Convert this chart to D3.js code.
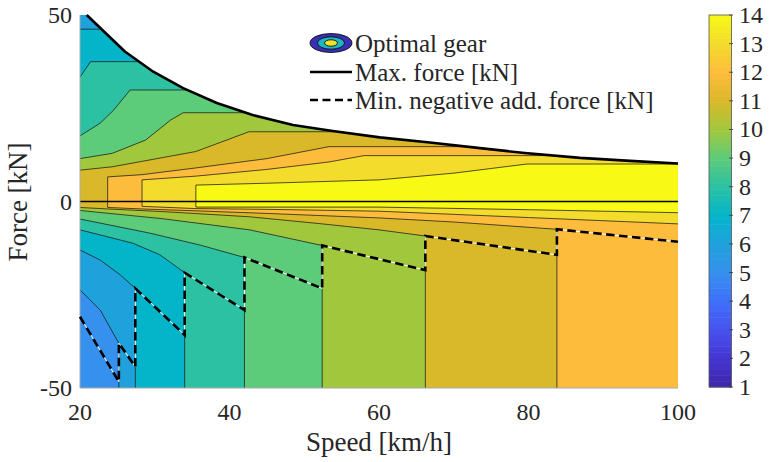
<!DOCTYPE html>
<html lang="en">
<head>
<meta charset="utf-8">
<title>Optimal gear map</title>
<script src="https://cdn.jsdelivr.net/npm/d3@7"></script>
<style>
  body { margin: 0; background: #fff; }
  text { font-family: "Liberation Serif", "Times New Roman", serif; fill: #262626; }
  .tick { font-size: 24px; }
  .label { font-size: 27px; text-anchor: middle; }
  .legend { font-size: 25px; }
  .contour { fill: none; stroke: #1a1a1a; stroke-width: 0.75px; }
</style>
</head>
<body>
<script>

// ---- data (speed km/h, force kN) ----
var maxForce = [[20,50],[20.9,50],[26,40.2],[29.8,34.8],[33.8,30.4],[38.3,26.4],[43.1,23.2],[48.5,20.5],
                [53.8,18.9],[60.1,17.2],[66.8,15.8],[73.5,14.3],[79.5,13.0],[86.9,11.7],[93.6,10.9],[100,10.2]];

var minNegForce = [[20,-30.9],[25.2,-48.3],[25.2,-38],[27.4,-44.3],[27.4,-23.3],[34,-35.8],[34,-19.1],
                   [42,-29.1],[42,-15],[52.4,-23.3],[52.4,-11.8],[66.2,-18.4],[66.2,-9.25],[83.8,-14.3],
                   [83.8,-7.45],[100,-10.8]];

var zeroLine = [[20,0],[100,0]];

var gears = [5,6,7,8,9,10,11,12,13,14];

// upper edge of the region "gear >= g"
var gearUpper = [
  [[20,50],[100,50]],
  [[20,50],[100,50]],
  [[20,46.2],[100,46.2]],
  [[20,33.3],[21.4,37.5],[100,37.5]],
  [[20,17.6],[22.7,21],[24.5,24.5],[26.7,29.9],[100,29.9]],
  [[20,11.5],[24.3,12.9],[28.8,16.5],[32.1,21.8],[33.8,23.8],[100,23.8]],
  [[20,8.4],[24.3,9.3],[35.5,13.4],[42.6,18.7],[100,18.7]],
  [[23.7,6.6],[28.3,7.2],[35.5,9.0],[45,11.5],[53.3,14.7],[100,14.7]],
  [[28.3,5.8],[35.5,6.8],[45,8.6],[53.3,10.6],[58,12.3],[100,12.3]],
  [[35.5,4.4],[45,4.9],[60,5.8],[70,7.6],[79.8,10.05],[100,10.05]]
];

// lower edge of the region "gear >= g"
var gearLower = [
  [[20,-50],[100,-50]],
  [[20,-23.7],[22.7,-29.1],[25.2,-38],[25.2,-50]],
  [[20,-13],[22.7,-15.7],[25.4,-19.7],[27.4,-23.3],[27.4,-50]],
  [[20,-7.6],[27.1,-11.2],[30.7,-14.3],[34,-19.1],[34,-50]],
  [[20,-4.7],[29.4,-8.5],[36.1,-11.7],[42,-15],[42,-50]],
  [[20,-2.4],[31,-4.6],[42.7,-7.6],[52.4,-11.8],[52.4,-50]],
  [[20,-1.6],[23.7,-2.0],[31,-2.7],[42.7,-4.1],[52.4,-6.0],[60,-7.6],[66.2,-9.25],[66.2,-50]],
  [[23.7,-1.6],[28.3,-2.0],[35.5,-2.5],[45,-3.2],[60,-4.4],[70,-5.5],[83.8,-7.45],[83.8,-50]],
  [[28.3,-1.3],[35.5,-1.9],[45,-2.1],[60,-2.6],[80,-4.3],[100,-6.0]],
  [[35.5,-1.5],[60,-1.5],[80,-2.2],[100,-3.0]]
];

var xTicks = [20,40,60,80,100];
var yTicks = [-50,0,50];
var cbTicks = [1,2,3,4,5,6,7,8,9,10,11,12,13,14];

// colour of each gear 1..14
var gearColors = ['#3e26a8','#4635d2','#4752ee','#3f70fa','#3690ee','#1fa1dc','#04b5ca',
                  '#2cc1a2','#5ccb7a','#a1c83d','#d9b92a','#fdbc3c','#f3dc2c','#f8f915'];

// ---- drawing ----
var w = 769, h = 462;
var x = d3.scaleLinear().domain([20,100]).range([80,678]);
var y = d3.scaleLinear().domain([-50,50]).range([388,15]);
var line = d3.line().x(function(d){return x(d[0]);}).y(function(d){return y(d[1]);});

var svg = d3.select("body").append("svg").attr("width",w).attr("height",h);

svg.append("defs").append("clipPath").attr("id","under-max")
   .append("path").attr("d", line(maxForce.concat([[100,-50],[20,-50]])) + "Z");

var plot = svg.append("g").attr("clip-path","url(#under-max)");

// filled regions, lowest gear first, higher gears painted on top
gears.forEach(function(g,i) {
    var up = gearUpper[i], lo = gearLower[i];
    var ring = up.slice();
    if (lo[lo.length-1][0] < 100) ring.push([100,-50]);
    ring = ring.concat(lo.slice().reverse());
    plot.append("path").attr("d", line(ring) + "Z").attr("fill", gearColors[g-1]);
});

// contour lines
gears.forEach(function(g,i) {
    if (g === 5) return;
    var up = gearUpper[i], lo = gearLower[i];
    if (up[0][0] > 20) {
        plot.append("path").attr("class","contour").attr("d", line(lo.slice().reverse().concat(up)));
    } else {
        if (up[0][1] < 50) plot.append("path").attr("class","contour").attr("d", line(up));
        plot.append("path").attr("class","contour").attr("d", line(lo));
    }
});

// axis edges
svg.append("path").attr("d", line([[20,50],[20,-50],[100,-50]]))
   .attr("fill","none").attr("stroke","#a8a8a8").attr("stroke-width",1);

plot.append("path").attr("d", line(zeroLine))
   .attr("fill","none").attr("stroke","#000").attr("stroke-width",1.4);

svg.append("path").attr("d", line(maxForce.slice(1)))
   .attr("fill","none").attr("stroke","#000").attr("stroke-width",2.6).attr("stroke-linejoin","round");

svg.append("path").attr("d", line(minNegForce))
   .attr("fill","none").attr("stroke","#fff").attr("stroke-width",1);
svg.append("path").attr("d", line(minNegForce))
   .attr("fill","none").attr("stroke","#000").attr("stroke-width",2.6).attr("stroke-dasharray","8.5,4.5");

// tick labels
svg.selectAll(".xt").data(xTicks).enter().append("text")
   .attr("class","tick").attr("text-anchor","middle")
   .attr("x", function(d){return x(d);}).attr("y", 420)
   .text(function(d){return d;});

svg.selectAll(".yt").data(yTicks).enter().append("text")
   .attr("class","tick").attr("text-anchor","end")
   .attr("x", 72).attr("y", function(d){return y(d) + 8;})
   .text(function(d){return d;});

svg.append("text").attr("class","label").attr("x", 379).attr("y", 451).text("Speed [km/h]");
svg.append("text").attr("class","label")
   .attr("transform","translate(27,202) rotate(-90)").text("Force [kN]");

// legend
var lg = svg.append("g");
lg.append("ellipse").attr("cx",331).attr("cy",43).attr("rx",21).attr("ry",9.5)
  .attr("fill","#3a2fb0").attr("stroke","#000").attr("stroke-width",0.8);
lg.append("ellipse").attr("cx",331).attr("cy",43).attr("rx",13.5).attr("ry",6.2)
  .attr("fill","#1fb4c4").attr("stroke","#000").attr("stroke-width",0.8);
lg.append("ellipse").attr("cx",331).attr("cy",43).attr("rx",6.5).attr("ry",3.2)
  .attr("fill","#f2e22a").attr("stroke","#000").attr("stroke-width",0.8);
lg.append("line").attr("x1",310).attr("x2",352).attr("y1",72).attr("y2",72)
  .attr("stroke","#000").attr("stroke-width",2.4);
lg.append("line").attr("x1",310).attr("x2",352).attr("y1",100).attr("y2",100)
  .attr("stroke","#000").attr("stroke-width",2.4).attr("stroke-dasharray","8,4.5");
lg.selectAll("text").data(["Optimal gear","Max. force [kN]","Min. negative add. force [kN]"])
  .enter().append("text").attr("class","legend")
  .attr("x",355).attr("y", function(d,i){return 52 + i*28.5;})
  .text(function(d){return d;});

// colorbar
var cb = d3.scaleLinear().domain([1,14]).range([387,15]);
var cmap = d3.scaleLinear().domain(cbTicks).range(gearColors).interpolate(d3.interpolateRgb);
var nSteps = d3.range(64);
svg.selectAll(".cb").data(nSteps).enter().append("rect")
   .attr("x",709).attr("width",22.5)
   .attr("y", function(i){return cb(1 + 13*(i+1)/64);})
   .attr("height", function(i){return cb(1 + 13*i/64) - cb(1 + 13*(i+1)/64) + 0.5;})
   .attr("fill", function(i){return cmap(1 + 13*(i+0.5)/64);});
svg.append("rect").attr("x",709).attr("y",15).attr("width",22.5).attr("height",372)
   .attr("fill","none").attr("stroke","#555").attr("stroke-width",0.8);
svg.selectAll(".cbt").data(cbTicks).enter().append("line")
   .attr("x1",729).attr("x2",733)
   .attr("y1", function(d){return cb(d);}).attr("y2", function(d){return cb(d);})
   .attr("stroke","#333").attr("stroke-width",0.8);
svg.selectAll(".cbl").data(cbTicks).enter().append("text")
   .attr("class","tick").attr("x",739).attr("y", function(d){return cb(d) + 8;})
   .text(function(d){return d;});

</script>
</body>
</html>
